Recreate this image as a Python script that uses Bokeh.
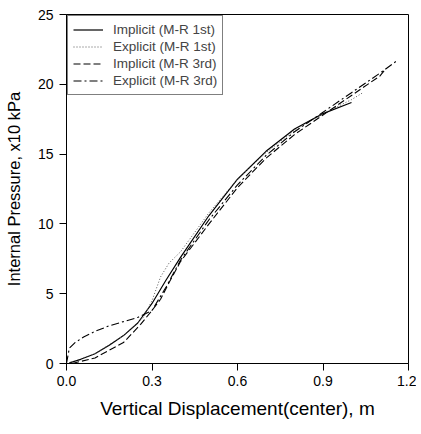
from bokeh.plotting import figure
from bokeh.models import Range1d, FixedTicker, Legend, LegendItem, CustomJSTickFormatter
from bokeh.embed import file_html
from bokeh.resources import INLINE

# Implicit (M-R 1st) - solid
imp1_x = [0.01, 0.05, 0.10, 0.15, 0.20, 0.25, 0.30, 0.35, 0.40, 0.50, 0.60, 0.70, 0.80, 0.90, 1.00]
imp1_y = [0.05, 0.30, 0.70, 1.30, 2.00, 2.90, 4.30, 6.00, 7.60, 10.6, 13.2, 15.2, 16.8, 17.9, 18.7]
# Explicit (M-R 1st) - dotted
exp1_x = [0.01, 0.10, 0.20, 0.27, 0.30, 0.33, 0.36, 0.40, 0.50, 0.60, 0.70, 0.80, 0.90, 1.00, 1.04]
exp1_y = [0.05, 0.70, 2.00, 3.30, 4.50, 6.20, 7.20, 8.00, 10.8, 13.2, 15.1, 16.7, 17.9, 18.9, 19.4]
# Implicit (M-R 3rd) - dashed
imp3_x = [0.02, 0.10, 0.20, 0.26, 0.30, 0.33, 0.36, 0.40, 0.50, 0.60, 0.70, 0.80, 0.90, 1.00, 1.10, 1.12]
imp3_y = [0.00, 0.40, 1.50, 2.80, 3.80, 4.60, 5.80, 7.30, 10.0, 12.6, 14.7, 16.4, 17.8, 19.2, 20.6, 21.1]
# Explicit (M-R 3rd) - dash-dot
exp3_x = [0.00, 0.01, 0.03, 0.06, 0.10, 0.15, 0.20, 0.25, 0.30, 0.35, 0.40, 0.50, 0.60, 0.70, 0.80, 0.90, 1.00, 1.10, 1.16]
exp3_y = [0.00, 1.10, 1.50, 1.90, 2.30, 2.70, 3.00, 3.30, 3.80, 5.50, 7.40, 10.3, 12.8, 14.9, 16.6, 18.0, 19.4, 20.8, 21.7]

labels = ["Implicit (M-R 1st)", "Explicit (M-R 1st)", "Implicit (M-R 3rd)", "Explicit (M-R 3rd)"]
x_ticks = [0.0, 0.3, 0.6, 0.9, 1.2]
y_ticks = [0, 5, 10, 15, 20, 25]

FONT = "Liberation Sans"

p = figure(width=416, height=425, output_backend="svg", toolbar_location=None,
           x_range=Range1d(0, 1.2), y_range=Range1d(0, 25),
           min_border_left=66, min_border_right=8, min_border_top=14, min_border_bottom=62)
p.grid.visible = False
p.outline_line_color = "black"
p.outline_line_width = 1
p.background_fill_color = "white"

r1 = p.line(imp1_x, imp1_y, line_color="black", line_width=1.2)
r2 = p.line(exp1_x, exp1_y, line_color="#555555", line_width=1, line_dash="1 2")
r3 = p.line(imp3_x, imp3_y, line_color="black", line_width=1.1, line_dash="7 3")
r4 = p.line(exp3_x, exp3_y, line_color="black", line_width=1.1, line_dash="8 3 2 3")

for ax in (p.xaxis[0], p.yaxis[0]):
    ax.major_tick_out = 7
    ax.major_tick_in = 0
    ax.minor_tick_out = 0
    ax.minor_tick_in = 0
    ax.axis_line_color = "black"
    ax.major_tick_line_color = "black"
    ax.major_label_text_font = FONT
    ax.major_label_text_font_size = "14px"
    ax.major_label_text_color = "black"
    ax.axis_label_text_font = FONT
    ax.axis_label_text_font_style = "normal"
    ax.axis_label_text_color = "black"

p.xaxis.axis_label_text_font_size = "19px"
p.yaxis.axis_label_text_font_size = "16.5px"
p.xaxis.ticker = FixedTicker(ticks=x_ticks)
p.yaxis.ticker = FixedTicker(ticks=y_ticks)
p.xaxis.formatter = CustomJSTickFormatter(code="return tick.toFixed(1);")
p.xaxis.axis_label = "Vertical Displacement(center), m"
p.yaxis.axis_label = "Internal Pressure, x10 kPa"
p.xaxis.major_label_standoff = 5
p.xaxis.axis_label_standoff = 9
p.yaxis.major_label_standoff = 6
p.yaxis.axis_label_standoff = 12

legend = Legend(items=[LegendItem(label=labels[0], renderers=[r1]),
                       LegendItem(label=labels[1], renderers=[r2]),
                       LegendItem(label=labels[2], renderers=[r3]),
                       LegendItem(label=labels[3], renderers=[r4])],
                location="top_left")
legend.margin = 1
legend.padding = 5
legend.spacing = 0
legend.glyph_width = 30
legend.glyph_height = 17
legend.label_height = 17
legend.label_standoff = 10
legend.label_text_font = FONT
legend.label_text_font_size = "13.5px"
legend.border_line_color = "black"
legend.border_line_width = 1
legend.background_fill_alpha = 1
p.add_layout(legend)

open("out.html", "w").write(file_html(p, INLINE))
